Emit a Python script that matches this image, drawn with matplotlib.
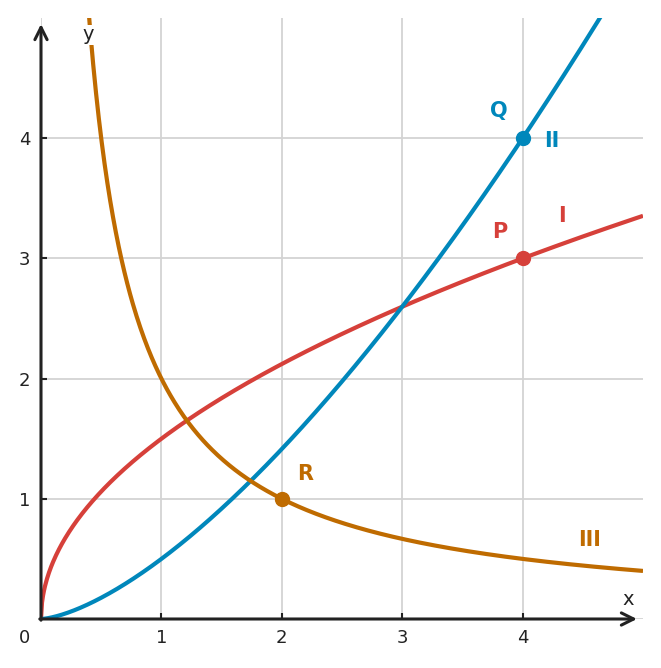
import numpy as np
import matplotlib.pyplot as plt

# Curves of the form y = k * x^n
names = ["I", "II", "III"]
coefs = [1.5, 0.5, 2.0]
powers = [0.5, 1.5, -1.0]
colors = ["#d6403a", "#0087bb", "#bf6b00"]

# Marked points
pointNames = ["P", "Q", "R"]
pointX = [4, 4, 2]
pointY = [3, 4, 1]

ticks = [1, 2, 3, 4]

fig = plt.figure(figsize=(6.61, 6.68), dpi=100)
ax = fig.add_axes([41/661, 49/668, 602/661, 601/668])
ax.set_xlim(0, 5)
ax.set_ylim(0, 5)

# grid
for t in [0] + ticks:
    ax.axvline(t, color="#d3d3d3", lw=1.3, zorder=1)
    ax.axhline(t, color="#d3d3d3", lw=1.3, zorder=1)

# curves
for k, n, c in zip(coefs, powers, colors):
    if n < 0:
        xs = np.linspace(0.3, 5, 600)
    else:
        xs = np.linspace(0, 5, 600)
    ax.plot(xs, k * xs**n, color=c, lw=3, zorder=4, solid_capstyle="butt")

# points
for px, py, c in zip(pointX, pointY, colors):
    ax.plot(px, py, "o", color=c, ms=10, zorder=5)

# labels
lab = dict(fontsize=15, fontweight="bold", ha="center", va="center", zorder=6)
ax.text(3.81, 3.22, "P", color=colors[0], **lab)
ax.text(3.80, 4.23, "Q", color=colors[1], **lab)
ax.text(2.19, 1.21, "R", color=colors[2], **lab)
ax.text(4.33, 3.35, "I", color=colors[0], **lab)
ax.text(4.24, 3.98, "II", color=colors[1], **lab)
ax.text(4.56, 0.66, "III", color=colors[2], **lab)

# axes with arrows
for s in ax.spines.values():
    s.set_visible(False)
ax.annotate("", xy=(4.95, 0), xytext=(-0.01, 0),
            arrowprops=dict(arrowstyle="->", color="#222222", lw=2.2,
                            mutation_scale=22, shrinkA=0, shrinkB=0), zorder=7)
ax.annotate("", xy=(0, 4.95), xytext=(0, -0.01),
            arrowprops=dict(arrowstyle="->", color="#222222", lw=2.2,
                            mutation_scale=22, shrinkA=0, shrinkB=0), zorder=7)

ax.set_xticks(ticks)
ax.set_yticks(ticks)
ax.tick_params(direction="in", length=4, width=1.5, color="#222222",
               labelsize=13, labelcolor="#222222", pad=7.5)
ax.text(-0.14, -0.16, "0", fontsize=13, color="#222222", ha="center", va="center")
ax.text(4.88, 0.16, "x", fontsize=14, color="#222222", ha="center", va="center")
ax.text(0.39, 4.86, "y", fontsize=14, color="#222222", ha="center", va="center",
        bbox=dict(facecolor="white", edgecolor="none", pad=0.5), zorder=8)

fig.savefig("out.png", dpi=100)
